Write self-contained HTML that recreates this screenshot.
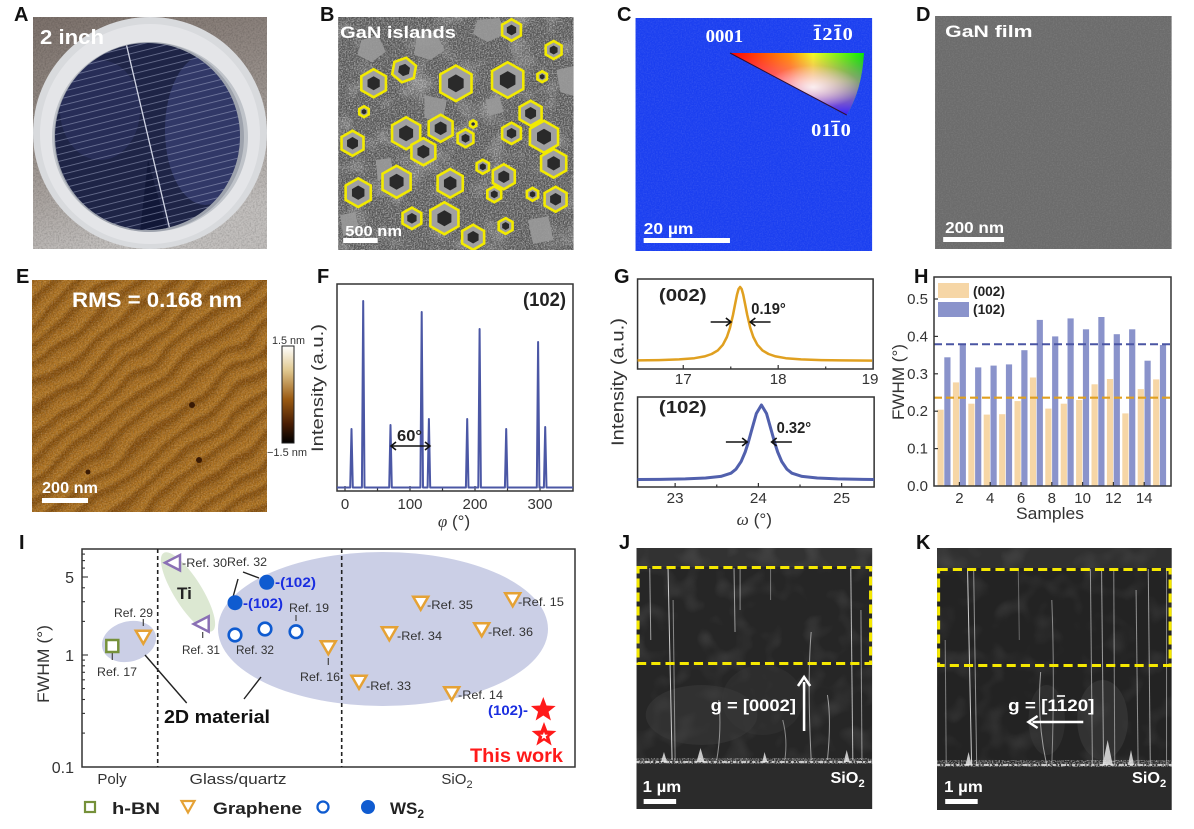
<!DOCTYPE html>
<html><head><meta charset="utf-8"><style>
html,body{margin:0;padding:0;background:#fff;}
svg{display:block;}
text{font-family:"Liberation Sans","DejaVu Sans",sans-serif;}
</style></head><body>
<svg width="1194" height="829" viewBox="0 0 1194 829" xmlns="http://www.w3.org/2000/svg">
<defs>
  <filter id="grain" x="0" y="0" width="100%" height="100%">
    <feTurbulence type="fractalNoise" baseFrequency="0.75" numOctaves="2" seed="4" result="t"/>
    <feColorMatrix in="t" type="matrix" values="0 0 0 0 1  0 0 0 0 1  0 0 0 0 1  1.6 0 0 0 -0.6" result="w"/>
    <feComposite in="w" in2="SourceGraphic" operator="in"/>
  </filter>
  <filter id="grainD" x="0" y="0" width="100%" height="100%">
    <feTurbulence type="fractalNoise" baseFrequency="0.6" numOctaves="2" seed="9" result="t"/>
    <feColorMatrix in="t" type="matrix" values="0 0 0 0 0  0 0 0 0 0  0 0 0 0 0  1.4 0 0 0 -0.55" result="w"/>
    <feComposite in="w" in2="SourceGraphic" operator="in"/>
  </filter>
  <filter id="blobs" x="0" y="0" width="100%" height="100%">
    <feTurbulence type="fractalNoise" baseFrequency="0.04" numOctaves="2" seed="2" result="t"/>
    <feColorMatrix in="t" type="matrix" values="0 0 0 0 1  0 0 0 0 1  0 0 0 0 1  2.2 0 0 0 -1.1" result="w"/>
    <feComposite in="w" in2="SourceGraphic" operator="in"/>
  </filter>
  <filter id="wavy" x="0" y="0" width="100%" height="100%">
    <feTurbulence type="fractalNoise" baseFrequency="0.018" numOctaves="2" seed="7" result="n"/>
    <feDisplacementMap in="SourceGraphic" in2="n" scale="22" xChannelSelector="R" yChannelSelector="G" result="d"/>
    <feGaussianBlur in="d" stdDeviation="1.5"/>
  </filter>
  <linearGradient id="aBg" x1="0" y1="0" x2="0.3" y2="1">
    <stop offset="0" stop-color="#7c716b"/><stop offset="0.55" stop-color="#9a928d"/><stop offset="1" stop-color="#c2bfbd"/>
  </linearGradient>
  <pattern id="aStripe" patternUnits="userSpaceOnUse" width="40" height="6.7" patternTransform="rotate(-14)">
    <rect width="40" height="6.7" fill="none"/>
    <line x1="0" y1="3.3" x2="40" y2="3.3" stroke="#a8aecb" stroke-width="0.8" opacity="0.55"/>
  </pattern>
  <pattern id="eStripe" patternUnits="userSpaceOnUse" width="17" height="18" patternTransform="rotate(-38)">
    <rect width="17" height="18" fill="#a86c1c"/>
    <rect width="17" height="6" fill="#87500f"/>
    <rect y="6" width="17" height="2.5" fill="#976018"/>
    <rect y="14" width="17" height="3" fill="#b27722"/>
  </pattern>
  <linearGradient id="cbar" x1="0" y1="0" x2="0" y2="1">
    <stop offset="0" stop-color="#ffffff"/><stop offset="0.25" stop-color="#e0c890"/><stop offset="0.55" stop-color="#9a5a12"/><stop offset="0.8" stop-color="#4a1e04"/><stop offset="1" stop-color="#000"/>
  </linearGradient>
  <linearGradient id="triH" x1="0" y1="0" x2="1" y2="0">
    <stop offset="0" stop-color="#ff0000"/><stop offset="0.45" stop-color="#ff9900"/><stop offset="0.62" stop-color="#f0ff20"/><stop offset="1" stop-color="#00f000"/>
  </linearGradient>
  <linearGradient id="triV" x1="0" y1="0" x2="0" y2="1">
    <stop offset="0" stop-color="#ff00ff" stop-opacity="0"/><stop offset="0.45" stop-color="#ff40ff" stop-opacity="0.45"/><stop offset="1" stop-color="#3020ff" stop-opacity="1"/>
  </linearGradient>
  <radialGradient id="triW" cx="0.62" cy="0.55" r="0.35">
    <stop offset="0" stop-color="#ffffff" stop-opacity="0.85"/><stop offset="1" stop-color="#ffffff" stop-opacity="0"/>
  </radialGradient>
  <g id="isl">
    <polygon points="0,-1 0.866,-0.5 0.866,0.5 0,1 -0.866,0.5 -0.866,-0.5" fill="#a0a0a0"/>
    <polygon points="0,-0.5 0.43,-0.25 0.43,0.25 0,0.5 -0.43,0.25 -0.43,-0.25" fill="#2a2a2a"/>
    <polygon points="0,-1 0.866,-0.5 0.866,0.5 0,1 -0.866,0.5 -0.866,-0.5" fill="none" stroke="#f2ea00" stroke-width="2.6" vector-effect="non-scaling-stroke"/>
  </g>
  <polygon id="star" points="0,-13 3.23,-4.45 12.36,-4.02 5.23,1.7 7.64,10.52 0,5.5 -7.64,10.52 -5.23,1.7 -12.36,-4.02 -3.23,-4.45"/>
  <clipPath id="clipB"><rect x="333" y="17" width="232" height="233"/></clipPath>
  <clipPath id="clipA"><rect x="33" y="17" width="234" height="232"/></clipPath>
  <clipPath id="clipE"><rect x="32" y="280" width="235" height="232"/></clipPath>
  <clipPath id="clipW"><ellipse cx="147.5" cy="136.5" rx="92.5" ry="93.5"/></clipPath>
</defs>

<!-- ===== Panel labels ===== -->
<g font-weight="bold" font-size="20" fill="#111">
  <text x="14" y="21">A</text>
  <text x="320" y="21">B</text>
  <text x="617" y="21">C</text>
  <text x="916" y="21">D</text>
  <text x="16" y="283">E</text>
  <text x="317" y="283">F</text>
  <text x="614" y="283">G</text>
  <text x="914" y="283">H</text>
  <text x="19" y="549">I</text>
  <text x="619" y="549">J</text>
  <text x="916" y="549">K</text>
</g>

<!-- ===== Panel A ===== -->
<g clip-path="url(#clipA)">
  <rect x="33" y="17" width="234" height="232" fill="url(#aBg)"/>
  <rect x="33" y="17" width="234" height="232" fill="#000" filter="url(#grainD)" opacity="0.25"/>
  <ellipse cx="150" cy="133" rx="117" ry="116" fill="#d8dadd"/>
  <ellipse cx="150" cy="134" rx="110" ry="110" fill="#e4e5e8"/>
  <ellipse cx="150" cy="137" rx="98" ry="95" fill="#bfc3c9"/>
  <ellipse cx="149" cy="137" rx="95" ry="95" fill="#9ea3ad"/>
  <ellipse cx="147.5" cy="136.5" rx="92.5" ry="93.5" fill="#1e2446"/>
  <g clip-path="url(#clipW)">
    <ellipse cx="205" cy="130" rx="40" ry="75" fill="#4a5290" opacity="0.45"/>
    <ellipse cx="100" cy="110" rx="40" ry="50" fill="#3a4078" opacity="0.35"/>
    <polygon points="148,160 168,232 140,232" fill="#0c1230" opacity="0.7"/>
    <rect x="40" y="30" width="230" height="220" fill="url(#aStripe)"/>
    <line x1="126" y1="43" x2="170" y2="230" stroke="#d0d4e4" stroke-width="1.3"/>
  </g>
  <text x="40" y="44" font-size="20" font-weight="bold" fill="#fff" textLength="64" lengthAdjust="spacingAndGlyphs">2 inch</text>
</g>

<!-- ===== Panel B ===== -->
<g transform="scale(1.0153,1)">
<g clip-path="url(#clipB)">
  <rect x="333" y="17" width="232" height="233" fill="#555"/>
  <rect x="333" y="17" width="232" height="233" fill="#000" filter="url(#grain)" opacity="0.75"/>
  <rect x="333" y="17" width="232" height="233" fill="#000" filter="url(#blobs)" opacity="0.35"/>
  <g fill="#9a9a9a" opacity="0.9">
    <polygon points="356,40 372,35 380,52 366,62 352,55"/>
    <polygon points="410,38 430,34 438,50 424,60 408,55"/>
    <polygon points="470,20 492,18 498,34 480,42 466,34"/>
    <polygon points="548,70 565,66 565,96 552,92"/>
    <polygon points="418,95 440,100 436,122 418,118"/>
    <polygon points="370,160 385,158 388,178 372,180"/>
    <polygon points="335,215 350,212 354,232 338,236"/>
    <polygon points="478,100 492,96 496,112 482,116"/>
    <polygon points="520,220 540,216 545,240 525,244"/>
  </g>
  <use href="#isl" transform="translate(503.8,30) scale(10.7)"/>
  <use href="#isl" transform="translate(545.3,50) scale(9)"/>
  <use href="#isl" transform="translate(368,83.3) scale(14)"/>
  <use href="#isl" transform="translate(398,70) scale(12.5) rotate(10)"/>
  <use href="#isl" transform="translate(449,83.3) scale(17.8)"/>
  <use href="#isl" transform="translate(500,80) scale(17.8)"/>
  <use href="#isl" transform="translate(534,76.7) scale(5.4)"/>
  <use href="#isl" transform="translate(358.5,111.7) scale(5.4)"/>
  <use href="#isl" transform="translate(400,133.3) scale(16)"/>
  <use href="#isl" transform="translate(434,128.3) scale(13.6)"/>
  <use href="#isl" transform="translate(466,124) scale(3.6)"/>
  <use href="#isl" transform="translate(458.5,138.3) scale(9)"/>
  <use href="#isl" transform="translate(522.6,113.3) scale(12.5)"/>
  <use href="#isl" transform="translate(503.8,133.3) scale(10.7)"/>
  <use href="#isl" transform="translate(535.8,136.7) scale(16)"/>
  <use href="#isl" transform="translate(347.2,143.3) scale(12.5)"/>
  <use href="#isl" transform="translate(417,151.7) scale(13.6)"/>
  <use href="#isl" transform="translate(545.3,163.3) scale(14.3)"/>
  <use href="#isl" transform="translate(475.5,166.7) scale(7)"/>
  <use href="#isl" transform="translate(496.2,176.7) scale(12.5)"/>
  <use href="#isl" transform="translate(390.6,181.7) scale(16)"/>
  <use href="#isl" transform="translate(443.4,183.3) scale(14.3)"/>
  <use href="#isl" transform="translate(352.8,192.7) scale(14.3)"/>
  <use href="#isl" transform="translate(486.8,194.3) scale(7.9)"/>
  <use href="#isl" transform="translate(524.5,194.3) scale(6.4)"/>
  <use href="#isl" transform="translate(547.2,199.3) scale(12.5)"/>
  <use href="#isl" transform="translate(405.7,218.3) scale(10.7)"/>
  <use href="#isl" transform="translate(437.7,218.3) scale(16)"/>
  <use href="#isl" transform="translate(466,237.3) scale(12.5)"/>
  <use href="#isl" transform="translate(498,226) scale(7.9)"/>
  <text x="335" y="38" font-size="17" font-weight="bold" fill="#fff" textLength="114" lengthAdjust="spacingAndGlyphs">GaN islands</text>
  <text x="340" y="236" font-size="15" font-weight="bold" fill="#fff" textLength="56" lengthAdjust="spacingAndGlyphs">500 nm</text>
  <rect x="338" y="238" width="34" height="5" fill="#fff"/>
</g>
</g>

<!-- ===== Right half scaled group: C, D, G, J, K ===== -->
<g transform="translate(600,0) scale(1.0153,1) translate(-600,0)">
<!-- Panel C -->
<rect x="635" y="18" width="233" height="233" fill="#1b3ff0"/>
<rect x="635" y="18" width="233" height="233" fill="#000" filter="url(#grain)" opacity="0.12"/>
<path d="M728,53 L860,53 Q858,90 843,115 Z" fill="url(#triH)"/>
<path d="M728,53 L860,53 Q858,90 843,115 Z" fill="url(#triV)"/>
<path d="M728,53 L860,53 Q858,90 843,115 Z" fill="url(#triW)"/>
<path d="M728,53 L843,115" stroke="#301030" stroke-width="1" fill="none"/>
<g font-weight="bold" font-size="18" fill="#fff">
  <text x="704" y="42" textLength="37" lengthAdjust="spacingAndGlyphs" style="font-family:'Liberation Serif',serif">0001</text>
  <text x="809" y="40" textLength="40" lengthAdjust="spacingAndGlyphs" style="font-family:'Liberation Serif',serif">1210</text>
  <text x="808" y="136" textLength="39" lengthAdjust="spacingAndGlyphs" style="font-family:'Liberation Serif',serif">0110</text>
</g>
<g stroke="#fff" stroke-width="1.5">
  <line x1="810.5" y1="25.5" x2="817.5" y2="25.5"/>
  <line x1="830.5" y1="25.5" x2="837.5" y2="25.5"/>
  <line x1="827.5" y1="121.5" x2="836.5" y2="121.5"/>
</g>
<text x="643" y="234" font-size="16" font-weight="bold" fill="#fff" textLength="49" lengthAdjust="spacingAndGlyphs">20 µm</text>
<rect x="643" y="238" width="85" height="5" fill="#fff"/>

<!-- Panel D -->
<rect x="930" y="16" width="233" height="233" fill="#6b6b6b"/>
<rect x="930" y="16" width="233" height="233" fill="#000" filter="url(#grain)" opacity="0.12"/>
<text x="940" y="37" font-size="17" font-weight="bold" fill="#fff" textLength="86" lengthAdjust="spacingAndGlyphs">GaN film</text>
<text x="940" y="233" font-size="16" font-weight="bold" fill="#fff" textLength="58" lengthAdjust="spacingAndGlyphs">200 nm</text>
<rect x="938" y="237" width="60" height="5" fill="#fff"/>

<!-- Panel G -->
<rect x="637" y="279" width="232" height="90" fill="none" stroke="#333" stroke-width="1.5"/>
<rect x="637" y="397" width="233" height="90" fill="none" stroke="#333" stroke-width="1.5"/>
<g stroke="#333" stroke-width="1.2">
  <line x1="682" y1="369" x2="682" y2="365"/><line x1="728.8" y1="369" x2="728.8" y2="366.5"/>
  <line x1="775.5" y1="369" x2="775.5" y2="365"/><line x1="822.3" y1="369" x2="822.3" y2="366.5"/>
  <line x1="674" y1="487" x2="674" y2="483"/><line x1="715" y1="487" x2="715" y2="484.5"/>
  <line x1="756" y1="487" x2="756" y2="483"/><line x1="797" y1="487" x2="797" y2="484.5"/>
  <line x1="838" y1="487" x2="838" y2="483"/>
</g>
<polyline points="637,360.4 658,360.1 678,359.4 693,358.2 703,356.4 710,354 716,350.4 721,344.8 725,337 728,327.9 731,314.9 733,304.5 735,294.4 736.5,289 738,287 739.5,289 741,294.4 743,304.5 745,314.9 748,327.9 751,337 755,344.8 760,350.4 766,354 773,356.4 783,358.2 798,359.4 818,360.1 838,360.4 868,360.6" fill="none" stroke="#e0a020" stroke-width="2.5" stroke-linejoin="round"/>
<polyline points="637,479.5 659,479.4 684,478.9 704,478 719,476.4 729,473.2 734,469.1 739,461.6 743,452 746,442.5 749,431.5 754,413.5 759,405 764,413.5 769,431.5 772,442.5 775,452 779,461.6 784,469.1 789,473.2 799,476.4 814,478 834,478.9 859,479.4 870,479.5" fill="none" stroke="#5160ad" stroke-width="3" stroke-linejoin="round"/>
<text x="658" y="301" font-size="18" font-weight="bold" fill="#222" textLength="47" lengthAdjust="spacingAndGlyphs">(002)</text>
<text x="749" y="314" font-size="16" font-weight="bold" fill="#222" textLength="34" lengthAdjust="spacingAndGlyphs">0.19°</text>
<text x="658" y="413" font-size="18" font-weight="bold" fill="#222" textLength="47" lengthAdjust="spacingAndGlyphs">(102)</text>
<text x="774" y="433" font-size="16" font-weight="bold" fill="#222" textLength="34" lengthAdjust="spacingAndGlyphs">0.32°</text>
<g stroke="#111" stroke-width="1.6" fill="none">
  <line x1="709" y1="322" x2="729" y2="322"/><polyline points="724,318 729,322 724,326"/>
  <line x1="768" y1="322" x2="748" y2="322"/><polyline points="753,318 748,322 753,326"/>
  <line x1="724" y1="442" x2="745" y2="442"/><polyline points="740,438 745,442 740,446"/>
  <line x1="789" y1="442" x2="769" y2="442"/><polyline points="774,438 769,442 774,446"/>
</g>
<g font-size="15" fill="#333" text-anchor="middle">
  <text x="682" y="384">17</text><text x="775.5" y="384">18</text><text x="866" y="384">19</text>
  <text x="674" y="503">23</text><text x="756" y="503">24</text><text x="838" y="503">25</text>
</g>
<text transform="translate(623,382) rotate(-90)" font-size="17" fill="#333" text-anchor="middle" textLength="128" lengthAdjust="spacingAndGlyphs">Intensity (a.u.)</text>
<text x="752" y="525" font-size="17" fill="#333" text-anchor="middle"><tspan font-style="italic" style="font-family:'Liberation Serif',serif">ω</tspan> (°)</text>

<!-- Panel J -->
<rect x="636" y="548" width="232" height="261" fill="#262626"/>
<rect x="636" y="548" width="232" height="19" fill="#323232"/>
<rect x="636" y="548" width="232" height="261" fill="#000" filter="url(#blobs)" opacity="0.12"/>
<ellipse cx="700" cy="715" rx="55" ry="30" fill="#3c3c3c" opacity="0.5"/>
<ellipse cx="760" cy="700" rx="40" ry="35" fill="#3a3a3a" opacity="0.4"/>
<g stroke="#e8e8e8" fill="none" stroke-width="1">
  <line x1="649" y1="568" x2="650" y2="640" opacity="0.6"/>
  <line x1="667" y1="568" x2="671" y2="760" opacity="0.85"/>
  <line x1="672" y1="600" x2="674" y2="760" opacity="0.5"/>
  <line x1="732" y1="568" x2="733" y2="632" opacity="0.6"/>
  <line x1="738" y1="568" x2="738" y2="610" opacity="0.5"/>
  <line x1="768" y1="568" x2="768" y2="600" opacity="0.4"/>
  <path d="M808,632 Q804,680 808,760" opacity="0.6"/>
  <line x1="847" y1="568" x2="849" y2="760" opacity="0.75"/>
  <line x1="857" y1="610" x2="858" y2="760" opacity="0.55"/>
  <path d="M824,695 Q828,720 824,760" opacity="0.6"/>
  <path d="M717,700 Q720,730 715,760" opacity="0.55"/>
  <path d="M780,720 Q785,740 782,760" opacity="0.5"/>
</g>
<rect x="636" y="764" width="232" height="45" fill="#2b2b2b"/>
<rect x="636" y="758" width="232" height="6" fill="#000" filter="url(#grain)" opacity="0.9"/>
<line x1="636" y1="762" x2="868" y2="762" stroke="#ddd" stroke-width="2" stroke-dasharray="3,2,1,2,5,1,2,3" opacity="0.85"/>
<g fill="#eee" opacity="0.8">
  <polygon points="695,762 699,748 703,762"/><polygon points="660,762 663,752 666,762"/>
  <polygon points="760,762 762,752 765,762"/><polygon points="840,762 843,750 846,762"/>
</g>
<rect x="637.5" y="567.5" width="229" height="96" fill="none" stroke="#f5e800" stroke-width="3" stroke-dasharray="9,5"/>
<text x="709" y="711" font-size="17" font-weight="bold" fill="#fff" textLength="84" lengthAdjust="spacingAndGlyphs">g = [0002]</text>
<line x1="801" y1="731" x2="801" y2="682" stroke="#fff" stroke-width="2.5"/>
<polyline points="795,686 801,677 807,686" fill="none" stroke="#fff" stroke-width="2.5"/>
<text x="827" y="783" font-size="16" font-weight="bold" fill="#fff">SiO<tspan font-size="11" dy="4">2</tspan></text>
<text x="642" y="792" font-size="16" font-weight="bold" fill="#fff" textLength="38" lengthAdjust="spacingAndGlyphs">1 µm</text>
<rect x="643" y="799" width="32" height="5" fill="#fff"/>

<!-- Panel K -->
<rect x="932" y="548" width="231" height="262" fill="#232323"/>
<rect x="932" y="548" width="231" height="20" fill="#303030"/>
<rect x="932" y="548" width="231" height="262" fill="#000" filter="url(#blobs)" opacity="0.1"/>
<ellipse cx="1095" cy="720" rx="25" ry="40" fill="#3c3c3c" opacity="0.6"/>
<ellipse cx="1040" cy="720" rx="18" ry="35" fill="#3a3a3a" opacity="0.5"/>
<g stroke="#e8e8e8" fill="none" stroke-width="1">
  <line x1="962" y1="569" x2="966" y2="765" opacity="0.85"/>
  <line x1="968" y1="569" x2="971" y2="765" opacity="0.55"/>
  <line x1="940" y1="640" x2="941" y2="765" opacity="0.45"/>
  <path d="M1034,672 Q1030,720 1040,765" opacity="0.6"/>
  <path d="M1045,600 Q1048,680 1045,765" opacity="0.5"/>
  <line x1="1083" y1="569" x2="1085" y2="765" opacity="0.55"/>
  <line x1="1094" y1="569" x2="1096" y2="765" opacity="0.6"/>
  <line x1="1106" y1="569" x2="1107" y2="765" opacity="0.5"/>
  <line x1="1128" y1="590" x2="1130" y2="765" opacity="0.55"/>
  <line x1="1140" y1="569" x2="1142" y2="765" opacity="0.6"/>
  <line x1="1158" y1="569" x2="1158" y2="765" opacity="0.5"/>
  <line x1="1012" y1="569" x2="1013" y2="640" opacity="0.35"/>
</g>
<rect x="932" y="767" width="231" height="43" fill="#2a2a2a"/>
<rect x="932" y="760" width="231" height="7" fill="#000" filter="url(#grain)" opacity="0.9"/>
<line x1="932" y1="765" x2="1163" y2="765" stroke="#ddd" stroke-width="2" stroke-dasharray="3,2,1,2,5,1,2,3" opacity="0.85"/>
<g fill="#eee" opacity="0.8">
  <polygon points="1095,765 1100,740 1105,765"/><polygon points="960,765 963,752 966,765"/>
  <polygon points="1120,765 1123,750 1126,765"/>
</g>
<rect x="933.5" y="569.5" width="228" height="96" fill="none" stroke="#f5e800" stroke-width="3" stroke-dasharray="9,5"/>
<text x="1002" y="711" font-size="17" font-weight="bold" fill="#fff" textLength="85" lengthAdjust="spacingAndGlyphs">g = [1120]</text>
<line x1="1050" y1="696" x2="1058" y2="696" stroke="#fff" stroke-width="1.6"/>
<line x1="1076" y1="722" x2="1026" y2="722" stroke="#fff" stroke-width="2.5"/>
<polyline points="1031,716 1022,722 1031,728" fill="none" stroke="#fff" stroke-width="2.5"/>
<text x="1124" y="783" font-size="16" font-weight="bold" fill="#fff">SiO<tspan font-size="11" dy="4">2</tspan></text>
<text x="939" y="792" font-size="16" font-weight="bold" fill="#fff" textLength="38" lengthAdjust="spacingAndGlyphs">1 µm</text>
<rect x="940" y="799" width="32" height="5" fill="#fff"/>
</g>

<!-- ===== Panel E ===== -->
<g clip-path="url(#clipE)">
  <rect x="32" y="280" width="235" height="232" fill="#a06618"/>
  <rect x="12" y="260" width="275" height="272" fill="url(#eStripe)" filter="url(#wavy)"/>
  <rect x="32" y="280" width="235" height="232" fill="#000" filter="url(#grain)" opacity="0.3"/>
  <rect x="32" y="280" width="235" height="232" fill="#000" filter="url(#grainD)" opacity="0.3"/>
</g>
<circle cx="192" cy="405" r="3" fill="#3a1a04"/>
<circle cx="199" cy="460" r="3" fill="#3a1a04"/>
<circle cx="88" cy="472" r="2.5" fill="#3a1a04"/>
<text x="72" y="307" font-size="21" font-weight="bold" fill="#fff" textLength="170" lengthAdjust="spacingAndGlyphs">RMS = 0.168 nm</text>
<text x="42" y="493" font-size="16" font-weight="bold" fill="#fff" textLength="56" lengthAdjust="spacingAndGlyphs">200 nm</text>
<rect x="42" y="498" width="46" height="5" fill="#fff"/>
<rect x="282" y="346" width="12" height="97" fill="url(#cbar)" stroke="#222" stroke-width="1"/>
<text x="272" y="344" font-size="11" fill="#333" textLength="33" lengthAdjust="spacingAndGlyphs">1.5 nm</text>
<text x="267" y="456" font-size="11" fill="#333" textLength="40" lengthAdjust="spacingAndGlyphs">−1.5 nm</text>

<!-- ===== Panel F ===== -->
<rect x="337" y="284" width="236" height="207" fill="none" stroke="#333" stroke-width="1.5"/>
<g stroke="#333" stroke-width="1.2">
  <line x1="345" y1="491" x2="345" y2="486"/><line x1="377.5" y1="491" x2="377.5" y2="488"/>
  <line x1="410" y1="491" x2="410" y2="486"/><line x1="442.5" y1="491" x2="442.5" y2="488"/>
  <line x1="475" y1="491" x2="475" y2="486"/><line x1="507.5" y1="491" x2="507.5" y2="488"/>
  <line x1="540" y1="491" x2="540" y2="486"/>
</g>
<path d="M337,487.5 L350.2,487.5 L351.5,429 L352.8,487.5 L361.9,487.5 L363.2,301 L364.5,487.5 L389.2,487.5 L390.5,425 L391.8,487.5 L420.4,487.5 L421.7,312 L423,487.5 L427.6,487.5 L428.9,419 L430.2,487.5 L465.9,487.5 L467.2,419 L468.5,487.5 L478.3,487.5 L479.6,329 L480.9,487.5 L504.9,487.5 L506.2,429 L507.5,487.5 L536.8,487.5 L538.1,342 L539.4,487.5 L543.9,487.5 L545.2,427 L546.5,487.5 L573,487.5" fill="none" stroke="#4b57a5" stroke-width="2" stroke-linejoin="round"/>
<text x="523" y="306" font-size="19" font-weight="bold" fill="#222" textLength="43" lengthAdjust="spacingAndGlyphs">(102)</text>
<text x="397" y="441" font-size="16" font-weight="bold" fill="#222" textLength="25" lengthAdjust="spacingAndGlyphs">60°</text>
<g stroke="#111" stroke-width="1.6" fill="none">
  <line x1="391" y1="446" x2="430" y2="446"/>
  <polyline points="396,442 391,446 396,450"/>
  <polyline points="425,442 430,446 425,450"/>
</g>
<g font-size="15" fill="#333" text-anchor="middle">
  <text x="345" y="509">0</text><text x="410" y="509">100</text><text x="475" y="509">200</text><text x="540" y="509">300</text>
</g>
<text transform="translate(323,388) rotate(-90)" font-size="17" fill="#333" text-anchor="middle" textLength="128" lengthAdjust="spacingAndGlyphs">Intensity (a.u.)</text>
<text x="454" y="527" font-size="17" fill="#333" text-anchor="middle"><tspan font-style="italic" style="font-family:'Liberation Serif',serif">φ</tspan> (°)</text>

<!-- ===== Panel H ===== -->
<g fill="#f6d6a6">
  <rect x="937.5" y="409.7" width="6.2" height="76.3"/><rect x="952.9" y="382.4" width="6.2" height="103.6"/>
  <rect x="968.3" y="403.7" width="6.2" height="82.3"/><rect x="983.7" y="414.6" width="6.2" height="71.4"/>
  <rect x="999.1" y="414.2" width="6.2" height="71.8"/><rect x="1014.5" y="401.1" width="6.2" height="84.9"/>
  <rect x="1029.9" y="377.5" width="6.2" height="108.5"/><rect x="1045.3" y="408.6" width="6.2" height="77.4"/>
  <rect x="1060.7" y="403.7" width="6.2" height="82.3"/><rect x="1076.1" y="400" width="6.2" height="86"/>
  <rect x="1091.5" y="384.3" width="6.2" height="101.7"/><rect x="1106.9" y="379" width="6.2" height="107"/>
  <rect x="1122.3" y="413.4" width="6.2" height="72.6"/><rect x="1137.7" y="389.1" width="6.2" height="96.9"/>
  <rect x="1153.1" y="379.4" width="6.2" height="106.6"/>
</g>
<g fill="#8a93cb">
  <rect x="944.3" y="357.3" width="6.2" height="128.7"/><rect x="959.7" y="344.3" width="6.2" height="141.7"/>
  <rect x="975.1" y="367.4" width="6.2" height="118.6"/><rect x="990.5" y="365.6" width="6.2" height="120.4"/>
  <rect x="1005.9" y="364.4" width="6.2" height="121.6"/><rect x="1021.3" y="350.2" width="6.2" height="135.8"/>
  <rect x="1036.7" y="319.9" width="6.2" height="166.1"/><rect x="1052.1" y="336.4" width="6.2" height="149.6"/>
  <rect x="1067.5" y="318.4" width="6.2" height="167.6"/><rect x="1082.9" y="329.3" width="6.2" height="156.7"/>
  <rect x="1098.3" y="317" width="6.2" height="169"/><rect x="1113.7" y="334.2" width="6.2" height="151.8"/>
  <rect x="1129.1" y="329.3" width="6.2" height="156.7"/><rect x="1144.5" y="360.7" width="6.2" height="125.3"/>
  <rect x="1159.9" y="345" width="6.2" height="141"/>
</g>
<line x1="934" y1="344.3" x2="1171" y2="344.3" stroke="#4a55a3" stroke-width="2" stroke-dasharray="8,4"/>
<line x1="934" y1="397.7" x2="1171" y2="397.7" stroke="#e0a020" stroke-width="2.2" stroke-dasharray="8,4"/>
<rect x="934" y="277" width="237" height="209" fill="none" stroke="#333" stroke-width="1.5"/>
<g stroke="#333" stroke-width="1.2">
  <line x1="934" y1="448.6" x2="938" y2="448.6"/><line x1="934" y1="411.2" x2="938" y2="411.2"/>
  <line x1="934" y1="373.8" x2="938" y2="373.8"/><line x1="934" y1="336.4" x2="938" y2="336.4"/>
  <line x1="934" y1="299" x2="938" y2="299"/>
  <line x1="959.4" y1="486" x2="959.4" y2="482"/><line x1="990.2" y1="486" x2="990.2" y2="482"/>
  <line x1="1021" y1="486" x2="1021" y2="482"/><line x1="1051.8" y1="486" x2="1051.8" y2="482"/>
  <line x1="1082.6" y1="486" x2="1082.6" y2="482"/><line x1="1113.4" y1="486" x2="1113.4" y2="482"/>
  <line x1="1144.2" y1="486" x2="1144.2" y2="482"/>
</g>
<rect x="938" y="283" width="31" height="15" fill="#f6d6a6"/>
<rect x="938" y="302" width="31" height="15" fill="#8a93cb"/>
<text x="973" y="296" font-size="14" font-weight="bold" fill="#222" textLength="32" lengthAdjust="spacingAndGlyphs">(002)</text>
<text x="973" y="314" font-size="14" font-weight="bold" fill="#222" textLength="32" lengthAdjust="spacingAndGlyphs">(102)</text>
<g font-size="15" fill="#333" text-anchor="end">
  <text x="928" y="491">0.0</text><text x="928" y="453.6">0.1</text><text x="928" y="416.2">0.2</text>
  <text x="928" y="378.8">0.3</text><text x="928" y="341.4">0.4</text><text x="928" y="304">0.5</text>
</g>
<g font-size="15" fill="#333" text-anchor="middle">
  <text x="959.4" y="503">2</text><text x="990.2" y="503">4</text><text x="1021" y="503">6</text>
  <text x="1051.8" y="503">8</text><text x="1082.6" y="503">10</text><text x="1113.4" y="503">12</text>
  <text x="1144.2" y="503">14</text>
</g>
<text transform="translate(904,382) rotate(-90)" font-size="17" fill="#333" text-anchor="middle" textLength="76" lengthAdjust="spacingAndGlyphs">FWHM (°)</text>
<text x="1050" y="519" font-size="17" fill="#333" text-anchor="middle" textLength="68" lengthAdjust="spacingAndGlyphs">Samples</text>

<!-- ===== Panel I ===== -->
<ellipse cx="383" cy="629" rx="165" ry="77" fill="#cbcfe6"/>
<ellipse cx="129" cy="641.5" rx="27.5" ry="20" fill="#cbcfe6" transform="rotate(-15 129 641.5)"/>
<ellipse cx="188" cy="592" rx="46" ry="14" fill="#dce8d2" transform="rotate(58 188 592)"/>
<rect x="82" y="549" width="493" height="218" fill="none" stroke="#333" stroke-width="1.5"/>
<line x1="157.7" y1="549" x2="157.7" y2="767" stroke="#222" stroke-width="1.6" stroke-dasharray="4,3"/>
<line x1="341.7" y1="549" x2="341.7" y2="767" stroke="#222" stroke-width="1.6" stroke-dasharray="4,3"/>
<g stroke="#333" stroke-width="1.1">
  <line x1="82" y1="577" x2="88" y2="577"/><line x1="82" y1="655" x2="88" y2="655"/>
  <line x1="82" y1="621.4" x2="85" y2="621.4"/><line x1="82" y1="601.7" x2="85" y2="601.7"/>
  <line x1="82" y1="587.8" x2="85" y2="587.8"/><line x1="82" y1="568.1" x2="85" y2="568.1"/>
  <line x1="82" y1="560.6" x2="85" y2="560.6"/><line x1="82" y1="554.1" x2="85" y2="554.1"/>
  <line x1="82" y1="733.1" x2="85" y2="733.1"/><line x1="82" y1="713.4" x2="85" y2="713.4"/>
  <line x1="82" y1="699.5" x2="85" y2="699.5"/><line x1="82" y1="688.6" x2="85" y2="688.6"/>
  <line x1="82" y1="679.8" x2="85" y2="679.8"/><line x1="82" y1="672.3" x2="85" y2="672.3"/>
  <line x1="82" y1="665.8" x2="85" y2="665.8"/><line x1="82" y1="660.1" x2="85" y2="660.1"/>
</g>
<g stroke="#222" stroke-width="1.4">
  <line x1="145" y1="655" x2="186.7" y2="703"/>
  <line x1="261" y1="677" x2="244" y2="699"/>
  <line x1="243" y1="572" x2="259" y2="578"/>
  <line x1="238" y1="579" x2="233" y2="597"/>
</g>
<g stroke="#444" stroke-width="1.2">
  <line x1="143.3" y1="619" x2="143.3" y2="626"/>
  <line x1="112.3" y1="653" x2="112.3" y2="660"/>
  <line x1="202.7" y1="632" x2="202.7" y2="638"/>
  <line x1="296" y1="615" x2="296" y2="621"/>
  <line x1="328.3" y1="658" x2="328.3" y2="665"/>
</g>
<rect x="106.3" y="640" width="12" height="12" fill="#fff" stroke="#76913a" stroke-width="2.5"/>
<g fill="#fff" stroke="#e5a235" stroke-width="2.5" stroke-linejoin="miter">
  <polygon points="135.8,630.7 150.8,630.7 143.3,643.7"/>
  <polygon points="320.8,641.3 335.8,641.3 328.3,654.3"/>
  <polygon points="351.5,675.7 366.5,675.7 359,688.7"/>
  <polygon points="381.8,627.3 396.8,627.3 389.3,640.3"/>
  <polygon points="413.2,596.7 428.2,596.7 420.7,609.7"/>
  <polygon points="474.2,623.3 489.2,623.3 481.7,636.3"/>
  <polygon points="505.2,593.3 520.2,593.3 512.7,606.3"/>
  <polygon points="444.2,687.3 459.2,687.3 451.7,700.3"/>
</g>
<g fill="#fff" stroke="#8a70b5" stroke-width="2.5">
  <polygon points="165,562.7 180,555 180,570.4"/>
  <polygon points="193.7,624 208.7,616.3 208.7,631.7"/>
</g>
<circle cx="266.7" cy="582.3" r="7.5" fill="#0f5bd0"/>
<circle cx="235" cy="602.7" r="7.5" fill="#0f5bd0"/>
<g fill="#fff" stroke="#0f5bd0" stroke-width="2.6">
  <circle cx="235" cy="635" r="6.3"/>
  <circle cx="265" cy="629" r="6.3"/>
  <circle cx="296" cy="631.7" r="6.3"/>
</g>
<use href="#star" fill="#ff1a1a" transform="translate(543.3,710)"/>
<use href="#star" fill="#ff1a1a" transform="translate(544,735)"/>
<use href="#star" fill="#fff" transform="translate(544,736) scale(0.32)"/>
<g font-size="12" fill="#333">
  <text x="182" y="567" textLength="45" lengthAdjust="spacingAndGlyphs">-Ref. 30</text>
  <text x="227" y="566" textLength="40" lengthAdjust="spacingAndGlyphs">Ref. 32</text>
  <text x="289" y="612" textLength="40" lengthAdjust="spacingAndGlyphs">Ref. 19</text>
  <text x="114" y="617" textLength="39" lengthAdjust="spacingAndGlyphs">Ref. 29</text>
  <text x="97" y="676" textLength="40" lengthAdjust="spacingAndGlyphs">Ref. 17</text>
  <text x="182" y="654" textLength="38" lengthAdjust="spacingAndGlyphs">Ref. 31</text>
  <text x="236" y="654" textLength="38" lengthAdjust="spacingAndGlyphs">Ref. 32</text>
  <text x="300" y="681" textLength="40" lengthAdjust="spacingAndGlyphs">Ref. 16</text>
  <text x="366" y="690" textLength="45" lengthAdjust="spacingAndGlyphs">-Ref. 33</text>
  <text x="397" y="640" textLength="45" lengthAdjust="spacingAndGlyphs">-Ref. 34</text>
  <text x="427" y="609" textLength="46" lengthAdjust="spacingAndGlyphs">-Ref. 35</text>
  <text x="488" y="636" textLength="45" lengthAdjust="spacingAndGlyphs">-Ref. 36</text>
  <text x="518" y="606" textLength="46" lengthAdjust="spacingAndGlyphs">-Ref. 15</text>
  <text x="458" y="699" textLength="45" lengthAdjust="spacingAndGlyphs">-Ref. 14</text>
</g>
<g font-size="14" font-weight="bold" fill="#1a2ee0">
  <text x="275" y="587" textLength="41" lengthAdjust="spacingAndGlyphs">-(102)</text>
  <text x="243" y="608" textLength="40" lengthAdjust="spacingAndGlyphs">-(102)</text>
  <text x="488" y="715" textLength="40" lengthAdjust="spacingAndGlyphs">(102)-</text>
</g>
<text x="177" y="599" font-size="17" font-weight="bold" fill="#222">Ti</text>
<text x="164" y="723" font-size="18" font-weight="bold" fill="#111" textLength="106" lengthAdjust="spacingAndGlyphs">2D material</text>
<text x="470" y="762" font-size="19" font-weight="bold" fill="#ff1a1a" textLength="93" lengthAdjust="spacingAndGlyphs">This work</text>
<g font-size="16" fill="#333" text-anchor="end">
  <text x="74" y="583">5</text><text x="74" y="661">1</text><text x="74" y="773">0.1</text>
</g>
<text transform="translate(49,664) rotate(-90)" font-size="17" fill="#333" text-anchor="middle" textLength="78" lengthAdjust="spacingAndGlyphs">FWHM (°)</text>
<g font-size="15" fill="#333" text-anchor="middle">
  <text x="112" y="784">Poly</text>
  <text x="238" y="784" textLength="97" lengthAdjust="spacingAndGlyphs">Glass/quartz</text>
  <text x="457" y="784">SiO<tspan font-size="11" dy="4">2</tspan></text>
</g>
<rect x="85" y="802" width="10" height="10" fill="#fff" stroke="#76913a" stroke-width="2.2"/>
<text x="112" y="814" font-size="17" font-weight="bold" fill="#222" textLength="48" lengthAdjust="spacingAndGlyphs">h-BN</text>
<polygon points="181.5,801 194.5,801 188,812.5" fill="#fff" stroke="#e5a235" stroke-width="2.2"/>
<text x="213" y="814" font-size="17" font-weight="bold" fill="#222" textLength="89" lengthAdjust="spacingAndGlyphs">Graphene</text>
<circle cx="323" cy="807" r="5.5" fill="#fff" stroke="#0f5bd0" stroke-width="2.3"/>
<circle cx="368" cy="807" r="7" fill="#0f5bd0"/>
<text x="390" y="814" font-size="17" font-weight="bold" fill="#222">WS<tspan font-size="12" dy="4">2</tspan></text>
</svg>
</body></html>
